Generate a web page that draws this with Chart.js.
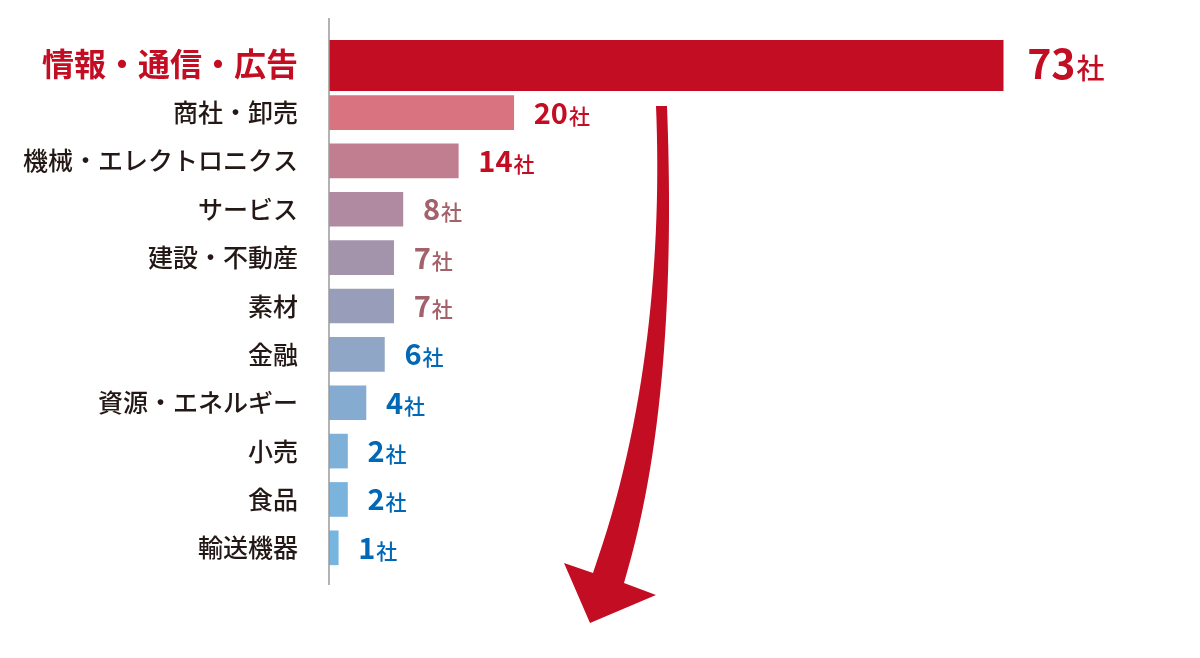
<!DOCTYPE html>
<html>
<head>
<meta charset="utf-8">
<script src="https://cdn.jsdelivr.net/npm/chart.js@4"></script>
<style>
  html, body { margin: 0; padding: 0; background: #fff; }
  #wrap { width: 1200px; height: 658px; }
</style>
</head>
<body>
<div id="wrap"><canvas id="myChart" width="1200" height="658"></canvas></div>
<script>
const categories = ['情報・通信・広告', '商社・卸売', '機械・エレクトロニクス', 'サービス', '建設・不動産', '素材', '金融', '資源・エネルギー', '小売', '食品', '輸送機器'];
const counts = [73, 20, 14, 8, 7, 7, 6, 4, 2, 2, 1];
const unit = '社';
const barColors = ['#c30d23', '#d8737f', '#c17e90', '#b08aa1', '#a394ac', '#989db9', '#8fa6c7', '#86abd1', '#7eb0d8', '#7ab3dc', '#75b5e0'];
const valueColors = ['#c30d23', '#c30d23', '#c30d23', '#a3616b', '#a3616b', '#a3616b', '#0068b7', '#0068b7', '#0068b7', '#0068b7', '#0068b7'];

const FONT = '"Noto Sans CJK JP", "Noto Sans", sans-serif';

// top bar is drawn thicker than the others
let topData = counts.map((v, i) => i === 0 ? v : null);
let restData = counts.map((v, i) => i === 0 ? null : v);

// axis line, a bit longer than the bar area
let axisLine = {
    id: 'axisLine',
    afterDatasetsDraw(chart) {
        let ctx = chart.ctx;
        let x = chart.chartArea.left;
        ctx.save();
        ctx.strokeStyle = '#9a9a9a';
        ctx.lineWidth = 1.5;
        ctx.beginPath();
        ctx.moveTo(x, chart.chartArea.top - 22);
        ctx.lineTo(x, chart.chartArea.bottom + 13);
        ctx.stroke();
        ctx.restore();
    }
};

// "73社" style labels at the end of each bar
let valueLabels = {
    id: 'valueLabels',
    afterDatasetsDraw(chart) {
        let ctx = chart.ctx;
        ctx.save();
        ctx.textBaseline = 'alphabetic';
        ctx.textAlign = 'left';
        counts.forEach((v, i) => {
            let meta = chart.getDatasetMeta(i === 0 ? 0 : 1);
            let bar = meta.data[i];
            let big = i === 0;
            let numFont = big ? 'bold 41px ' + FONT : 'bold 29px ' + FONT;
            let unitFont = big ? '500 28px ' + FONT : '500 21px ' + FONT;
            let x = bar.x + (big ? 24 : 20);
            let y = bar.y + (big ? 15 : 11);
            ctx.fillStyle = valueColors[i];
            ctx.font = numFont;
            ctx.fillText(String(v), x, y);
            x += ctx.measureText(String(v)).width + 1;
            ctx.font = unitFont;
            ctx.fillText(unit, x, y);
        });
        ctx.restore();
    }
};

// big curved arrow pointing down
let arrow = {
    id: 'arrow',
    afterDraw(chart) {
        let ctx = chart.ctx;
        ctx.save();
        ctx.fillStyle = '#c30d23';
        ctx.beginPath();
        ctx.moveTo(656, 106);
        ctx.lineTo(667, 106);
        ctx.bezierCurveTo(673, 260, 668, 440, 624, 583);
        ctx.lineTo(656, 595);
        ctx.lineTo(590, 623);
        ctx.lineTo(564, 563);
        ctx.lineTo(593, 573);
        ctx.bezierCurveTo(648, 420, 662, 250, 656, 106);
        ctx.closePath();
        ctx.fill();
        ctx.restore();
    }
};

let ctx = document.getElementById('myChart').getContext('2d');
let myBarChart = new Chart(ctx, {
    type: 'bar',
    data: {
        labels: categories,
        datasets: [{
            data: topData,
            backgroundColor: barColors,
            barThickness: 53,
            borderWidth: 0
        }, {
            data: restData,
            backgroundColor: barColors,
            barThickness: 34,
            borderWidth: 0
        }]
    },
    options: {
        indexAxis: 'y',
        responsive: false,
        animation: false,
        devicePixelRatio: 1,
        layout: {
            padding: { left: 0, right: 86, top: 40, bottom: 86 }
        },
        datasets: {
            bar: { grouped: false, skipNull: true }
        },
        plugins: {
            legend: { display: false },
            tooltip: { enabled: false }
        },
        scales: {
            x: {
                display: false,
                min: 0,
                max: 85
            },
            y: {
                grid: { display: false, drawTicks: false },
                border: { display: false },
                afterFit(scale) {
                    scale.width = 329;
                    scale.paddingTop = 0;
                    scale.paddingBottom = 0;
                },
                ticks: {
                    padding: 31,
                    color: c => c.index === 0 ? '#c30d23' : '#231815',
                    font: c => c.index === 0
                        ? { family: FONT, size: 32, weight: 'bold' }
                        : { family: FONT, size: 25, weight: '500' }
                }
            }
        }
    },
    plugins: [axisLine, valueLabels, arrow]
});
</script>
</body>
</html>
